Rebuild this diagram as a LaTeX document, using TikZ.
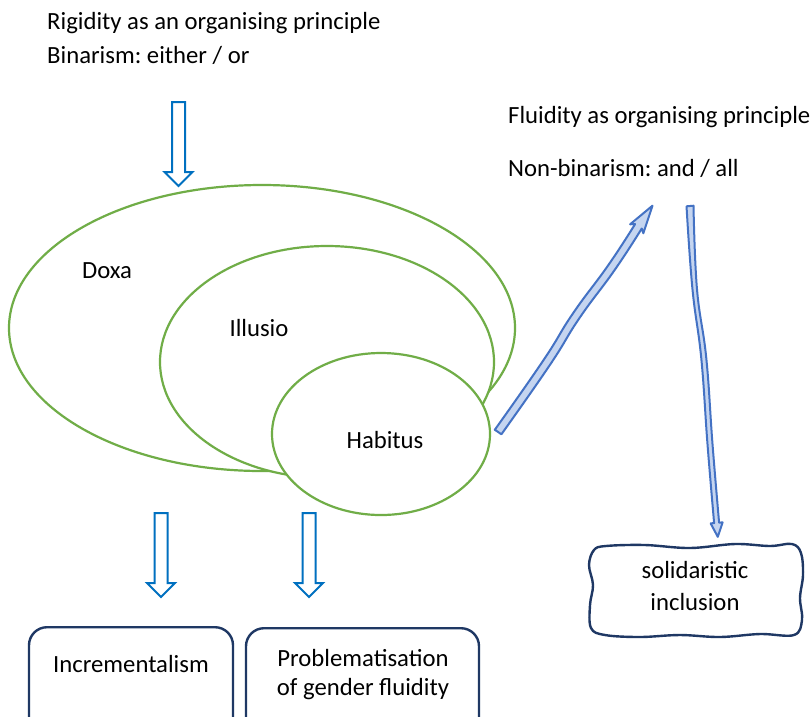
\documentclass[tikz,border=0pt]{standalone}
\usepackage{fontspec}
\setmainfont{Carlito}
\frenchspacing
\usetikzlibrary{calc,shapes.geometric}
\definecolor{grn}{HTML}{70AD47}
\definecolor{blu}{HTML}{0070C0}
\definecolor{navy}{HTML}{1F3864}
\definecolor{wblue}{HTML}{4472C4}
\definecolor{wfill}{HTML}{C5D5F0}
\tikzset{
  txt/.style={font=\fontsize{24.7}{30}\selectfont, inner sep=0pt},
  ring/.style={draw=grn, line width=2.2pt, fill=white, ellipse, inner sep=0pt},
  hollowdown/.pic={\draw[blu, line width=2pt, line join=miter, fill=white]
     (-6.5,0) -- (-6.5,70) -- (-14,70) -- (0,84) -- (14,70) -- (6.5,70) -- (6.5,0) -- cycle;},
  outbox/.style={draw=navy, line width=2.4pt, rounded corners=18pt, inner sep=0pt},
  wavyarrow/.style={draw=wblue, line width=2pt, fill=wfill, line join=round},
  wavybox/.style={draw=navy, line width=2.4pt, line join=round}
}
\begin{document}
\begin{tikzpicture}[x=1pt,y=-1pt]
\useasboundingbox (0,0) rectangle (810,716);
\clip (0,0) rectangle (810,716);
\fill[white] (0,0) rectangle (810,716);

% top texts
\node[txt, anchor=base west] (rig) at (47,29) {Rigidity as an organising principle};
\node[txt, anchor=base west] (bin) at (47,63) {Binarism: either / or};
\node[txt, anchor=base west] (flu) at (508,123) {Fluidity as organising principle};
\node[txt, anchor=base west] (non) at (508,176) {Non-binarism: and / all};

% nested ellipses
\node[ring, minimum width=506pt, minimum height=286pt] (doxa) at (262,328) {};
\node[ring, minimum width=334pt, minimum height=232pt] (illu) at (327,362) {};
\node[ring, minimum width=218pt, minimum height=162pt] (hab) at (381,434) {};
\node[txt, anchor=base] (doxat) at (107,278) {Doxa};
\node[txt, anchor=base] (illut) at (259,336) {Illusio};
\node[txt, anchor=base] (habt) at (385,448) {Habitus};

% hollow arrows
\pic (a0) at (178.5,102) {hollowdown};
\pic (a1) at (161,513) {hollowdown};
\pic (a2) at (309,513) {hollowdown};

% bottom boxes
\node[outbox, minimum width=204pt, minimum height=130pt, anchor=north] (inc) at (131,626) {};
\node[txt, anchor=base] (inct) at (131,672) {Incrementalism};
\node[outbox, minimum width=233pt, minimum height=130pt, anchor=north] (prob) at (362.5,627) {};
\node[txt, align=center, font=\fontsize{24.7}{29}\selectfont] (probt) at (363,675) {Problematisation\\of gender fluidity};

% solidaristic inclusion box
\node[txt, align=center, font=\fontsize{24.7}{32}\selectfont] (sol) at (695,586) {solidaristic\\inclusion};
\draw[wavybox] plot[smooth cycle, tension=0.6] coordinates {
  (606,546) (645,545) (690,548) (735,544) (770,546) (792,544)
  (801,553) (803,575) (800,598) (802,620)
  (794,635) (760,634) (720,637) (680,635) (640,637) (605,635)
  (591,628) (590,605) (593,585) (589,565) (594,550)};

% wavy block arrows
\coordinate (w1s) at ($(hab.east)+(7,-2)$);
\coordinate (w1e) at (651,206);
\begin{scope}[shift={(w1s)}, rotate=55.7]
\filldraw[wavyarrow] plot[smooth, tension=0.8] coordinates {(0,-4) (85,-3) (140,-5) (200,-3) (249,-4)}
  -- (246,-8) -- (274,0) -- (246,8) --
  plot[smooth, tension=0.8] coordinates {(249,4) (200,5) (140,3) (85,5) (0,4)} -- cycle;
\end{scope}
\coordinate (w2s) at (690,206);
\coordinate (w2e) at ($(sol.north)+(23,-42)$);
\begin{scope}[shift={(w2s)}, rotate=-85.2]
\filldraw[wavyarrow] plot[smooth, tension=0.7] coordinates {(0,-3.5) (83,0) (153,-3.5) (239,-2.5) (318,-2.5)}
  -- (318,-6) -- (332,0) -- (318,6) --
  plot[smooth, tension=0.7] coordinates {(318,2.5) (239,2.5) (153,1.5) (83,4.5) (0,3.5)} -- cycle;
\end{scope}
\end{tikzpicture}
\end{document}
